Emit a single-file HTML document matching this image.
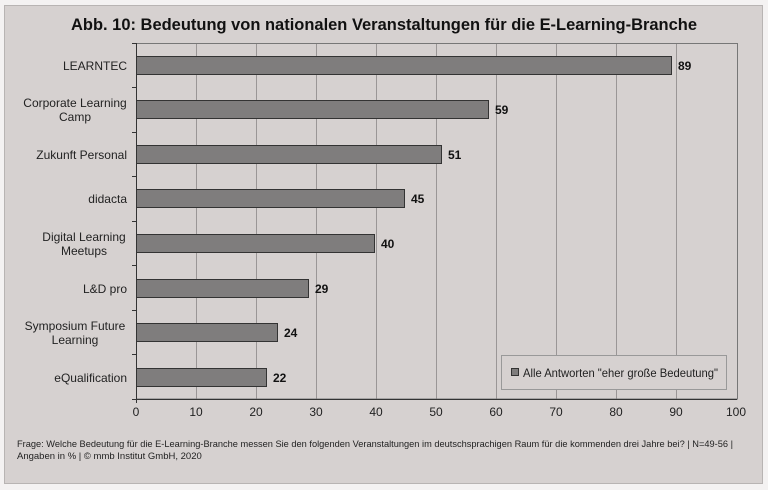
<!DOCTYPE html>
<html><head><style>
body{margin:0;background:#fff;}
svg{display:block;font-family:"Liberation Sans",Arial,sans-serif;}
</style></head><body>
<svg width="768" height="490" viewBox="0 0 768 490">
<rect x="0" y="0" width="768" height="490" fill="#f4f2f2"/>
<rect x="4.5" y="5.5" width="758" height="478" fill="#d6d1d0" stroke="#b8b4b3"/>
<text x="384" y="30" font-size="16.5" font-weight="bold" text-anchor="middle" fill="#111" textLength="626" lengthAdjust="spacingAndGlyphs">Abb. 10: Bedeutung von nationalen Veranstaltungen für die E-Learning-Branche</text>
<g stroke="#9a9696" stroke-width="1">
<line x1="196.5" y1="43" x2="196.5" y2="399"/><line x1="256.5" y1="43" x2="256.5" y2="399"/>
<line x1="316.5" y1="43" x2="316.5" y2="399"/><line x1="376.5" y1="43" x2="376.5" y2="399"/>
<line x1="436.5" y1="43" x2="436.5" y2="399"/><line x1="496.5" y1="43" x2="496.5" y2="399"/>
<line x1="556.5" y1="43" x2="556.5" y2="399"/><line x1="616.5" y1="43" x2="616.5" y2="399"/>
<line x1="676.5" y1="43" x2="676.5" y2="399"/>
</g>
<rect x="136.5" y="43.5" width="601" height="355.5" fill="none" stroke="#777"/>
<g stroke="#333" stroke-width="1">
<line x1="136.5" y1="43" x2="136.5" y2="403"/><line x1="132" y1="399.5" x2="737" y2="399.5"/>
<line x1="132" y1="43.5" x2="136" y2="43.5"/><line x1="132" y1="87.5" x2="136" y2="87.5"/>
<line x1="132" y1="132.5" x2="136" y2="132.5"/><line x1="132" y1="176.5" x2="136" y2="176.5"/>
<line x1="132" y1="221.5" x2="136" y2="221.5"/><line x1="132" y1="265.5" x2="136" y2="265.5"/>
<line x1="132" y1="310.5" x2="136" y2="310.5"/><line x1="132" y1="354.5" x2="136" y2="354.5"/>
</g>
<g fill="#7f7d7d" stroke="#333" stroke-width="1">
<rect x="136.5" y="56.5" width="535" height="18"/>
<rect x="136.5" y="100.5" width="352" height="18"/>
<rect x="136.5" y="145.5" width="305" height="18"/>
<rect x="136.5" y="189.5" width="268" height="18"/>
<rect x="136.5" y="234.5" width="238" height="18"/>
<rect x="136.5" y="279.5" width="172" height="18"/>
<rect x="136.5" y="323.5" width="141" height="18"/>
<rect x="136.5" y="368.5" width="130" height="18"/>
</g>
<g font-size="12" font-weight="bold" fill="#111">
<text x="678" y="70">89</text><text x="495" y="114">59</text><text x="448" y="159">51</text>
<text x="411" y="203">45</text><text x="381" y="248">40</text><text x="315" y="293">29</text>
<text x="284" y="337">24</text><text x="273" y="382">22</text>
</g>
<g font-size="12" fill="#222" text-anchor="end">
<text x="127" y="70">LEARNTEC</text>
<text x="127" y="159">Zukunft Personal</text>
<text x="127" y="203">didacta</text>
<text x="127" y="293">L&amp;D pro</text>
<text x="127" y="382">eQualification</text>
</g>
<g font-size="12" fill="#222" text-anchor="middle">
<text x="75" y="107">Corporate Learning</text><text x="75" y="121">Camp</text>
<text x="84" y="241">Digital Learning</text><text x="84" y="255">Meetups</text>
<text x="75" y="330">Symposium Future</text><text x="75" y="344">Learning</text>
</g>
<g font-size="12" fill="#222" text-anchor="middle">
<text x="136" y="416">0</text><text x="196" y="416">10</text><text x="256" y="416">20</text>
<text x="316" y="416">30</text><text x="376" y="416">40</text><text x="436" y="416">50</text>
<text x="496" y="416">60</text><text x="556" y="416">70</text><text x="616" y="416">80</text>
<text x="676" y="416">90</text><text x="736" y="416">100</text>
</g>
<rect x="501.5" y="355.5" width="225" height="34" fill="#d6d1d0" stroke="#999"/>
<rect x="511.5" y="368.5" width="7" height="7" fill="#7f7d7d" stroke="#333"/>
<text x="523" y="377" font-size="12" fill="#222" textLength="195" lengthAdjust="spacingAndGlyphs">Alle Antworten "eher große Bedeutung"</text>
<text x="17" y="447" font-size="9.5" fill="#222" textLength="716" lengthAdjust="spacingAndGlyphs">Frage: Welche Bedeutung für die E-Learning-Branche messen Sie den folgenden Veranstaltungen im deutschsprachigen Raum für die kommenden drei Jahre bei? | N=49-56 |</text>
<text x="17" y="459" font-size="9.5" fill="#222">Angaben in % | © mmb Institut GmbH, 2020</text>
</svg>
</body></html>
